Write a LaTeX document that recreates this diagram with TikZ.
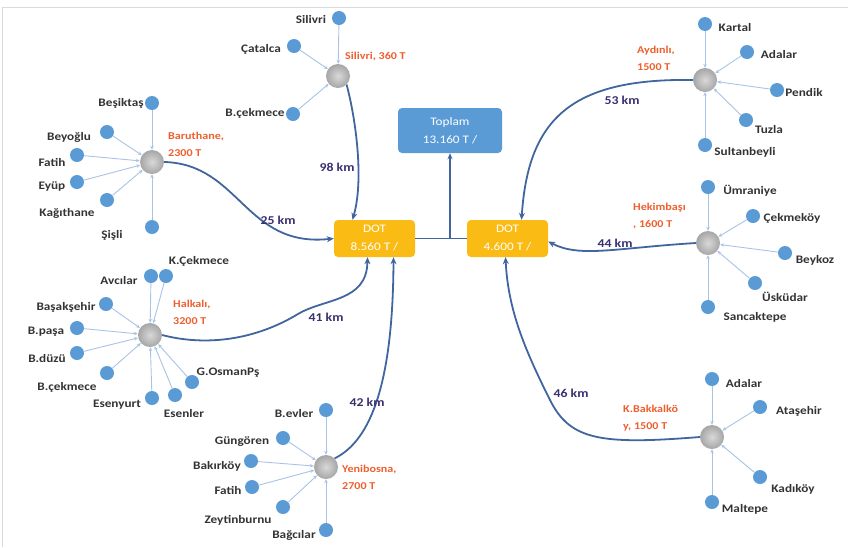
\documentclass[tikz,border=0pt]{standalone}
\usepackage{fontspec}
\setmainfont{Carlito}[FakeStretch=1.15]
\usetikzlibrary{arrows.meta}
\definecolor{leafblue}{HTML}{5B9BD5}
\definecolor{linklight}{HTML}{A9C3E6}
\definecolor{curveblue}{HTML}{41659E}
\definecolor{kmcol}{HTML}{3A3070}
\definecolor{redlab}{HTML}{EE5F2E}
\definecolor{dotcol}{HTML}{FABB14}
\definecolor{topcol}{HTML}{5B9BD5}
\definecolor{framecol}{HTML}{DADADA}
\tikzset{
  leafnode/.style={circle, fill=leafblue, minimum size=14pt, inner sep=0pt},
  hubnode/.style={circle, shading=radial, inner color=gray!30, outer color=gray!70, minimum size=24pt, inner sep=0pt},
  lab/.style={font=\bfseries\fontsize{11.5}{12}\selectfont, text=black!80, inner sep=0pt},
  redl/.style={font=\bfseries\fontsize{10.5}{17}\selectfont, text=redlab, inner sep=0pt, align=left, anchor=north west},
  kml/.style={font=\bfseries\fontsize{12}{12}\selectfont, text=kmcol, inner sep=0pt},
  feed/.style={draw=linklight, line width=0.9pt, -{Stealth[length=4pt,width=3.5pt]}},
  trunk/.style={draw=curveblue, line width=1.8pt, -{Stealth[length=7pt,width=6pt]}},
  boxd/.style={rounded corners=4pt, text=white, align=center, font=\fontsize{11.5}{18}\selectfont, inner sep=0pt},
}
\begin{document}
\begin{tikzpicture}[x=1pt,y=-1pt]
\useasboundingbox (0,0) rectangle (848,547);
\draw[framecol, line width=1pt] (2.5,547) -- (2.5,7) -- (848,7);

% central boxes
\node[boxd, fill=topcol, minimum width=104pt, minimum height=45pt] (top) at (450,130.5) {Toplam\\13.160 T /};
\node[boxd, fill=dotcol, minimum width=81pt, minimum height=37pt] (dotL) at (374.5,238.5) {DOT\\8.560 T /};
\node[boxd, fill=dotcol, minimum width=81pt, minimum height=37pt] (dotR) at (507.5,238.5) {DOT\\4.600 T /};
\coordinate (jn) at (450,238.5);
\draw[curveblue, line width=1.4pt] (dotL.east) -- (dotR.west);
\draw[curveblue, line width=1.4pt, -{Stealth[length=6pt,width=5pt]}] (jn) -- (top.south);

% hubs
\node[hubnode] (hS) at (338,76) {};
\node[hubnode] (hB) at (152,162) {};
\node[hubnode] (hH) at (150,335) {};
\node[hubnode] (hY) at (326,467) {};
\node[hubnode] (hA) at (705,80) {};
\node[hubnode] (hK) at (708,243) {};
\node[hubnode] (hKB) at (712,437) {};

% Silivri cluster
\node[leafnode] (s1) at (339,18) {};
\node[leafnode] (s2) at (294,46) {};
\node[leafnode] (s3) at (293,114) {};
\node[lab] (ts1) at (311,20) {Silivri};
\node[lab] (ts2) at (261,49) {Çatalca};
\node[lab] (ts3) at (255,113) {B.çekmece};
\foreach \l in {s1,s2,s3} \draw[feed] (\l) -- (hS);
\node[redl] (rS) at (345,52) {Silivri, 360 T};

% Baruthane cluster
\node[leafnode] (b1) at (152,103) {};
\node[leafnode] (b2) at (107,132) {};
\node[leafnode] (b3) at (77,155) {};
\node[leafnode] (b4) at (77,182) {};
\node[leafnode] (b5) at (107,200) {};
\node[leafnode] (b6) at (152,227) {};
\node[lab] (tb1) at (121,103) {Beşiktaş};
\node[lab] (tb2) at (69,137) {Beyoğlu};
\node[lab] (tb3) at (52,162) {Fatih};
\node[lab] (tb4) at (52,187) {Eyüp};
\node[lab] (tb5) at (67,213) {Kağıthane};
\node[lab] (tb6) at (112,235) {Şişli};
\foreach \l in {b1,b2,b3,b4,b5,b6} \draw[feed] (\l) -- (hB);
\node[redl] (rB) at (168,132) {Baruthane,\\2300 T};

% Halkali cluster
\node[leafnode] (h1) at (151,276) {};
\node[leafnode] (h2) at (166,276) {};
\node[leafnode] (h3) at (106,304) {};
\node[leafnode] (h4) at (77,328) {};
\node[leafnode] (h5) at (77,353) {};
\node[leafnode] (h6) at (107,373) {};
\node[leafnode] (h7) at (152,398) {};
\node[leafnode] (h8) at (175,395) {};
\node[leafnode] (h9) at (192,382) {};
\node[lab] (th1) at (119,280) {Avcılar};
\node[lab] (th2) at (199,261) {K.Çekmece};
\node[lab] (th3) at (66,307) {Başakşehir};
\node[lab] (th4) at (46,332) {B.paşa};
\node[lab] (th5) at (47,358) {B.düzü};
\node[lab] (th6) at (67,387) {B.çekmece};
\node[lab] (th7) at (117,405) {Esenyurt};
\node[lab] (th8) at (184,413) {Esenler};
\node[lab] (th9) at (228,373) {G.OsmanPş};
\foreach \l in {h1,h2,h3,h4,h5,h6,h7,h8,h9} \draw[feed] (\l) -- (hH);
\node[redl] (rH) at (173,300) {Halkalı,\\3200 T};

% Yenibosna cluster
\node[leafnode] (y1) at (326,410) {};
\node[leafnode] (y2) at (283,438) {};
\node[leafnode] (y3) at (251,461) {};
\node[leafnode] (y4) at (252,487) {};
\node[leafnode] (y5) at (283,507) {};
\node[leafnode] (y6) at (326,530) {};
\node[lab] (ty1) at (294,413) {B.evler};
\node[lab] (ty2) at (242,442) {Güngören};
\node[lab] (ty3) at (217,466) {Bakırköy};
\node[lab] (ty4) at (228,490) {Fatih};
\node[lab] (ty5) at (238,520) {Zeytinburnu};
\node[lab] (ty6) at (294,535) {Bağcılar};
\foreach \l in {y1,y2,y3,y4,y5,y6} \draw[feed] (\l) -- (hY);
\node[redl] (rY) at (342,465) {Yenibosna,\\2700 T};

% Aydinli cluster
\node[leafnode] (a1) at (705,24) {};
\node[leafnode] (a2) at (747,52) {};
\node[leafnode] (a3) at (777,90) {};
\node[leafnode] (a4) at (746,120) {};
\node[leafnode] (a5) at (705,145) {};
\node[lab] (ta1) at (735,28) {Kartal};
\node[lab] (ta2) at (779,55) {Adalar};
\node[lab] (ta3) at (804,93) {Pendik};
\node[lab] (ta4) at (769,130) {Tuzla};
\node[lab] (ta5) at (745,152) {Sultanbeyli};
\foreach \l in {a1,a2,a3,a4,a5} \draw[feed] (\l) -- (hA);
\node[redl] (rA) at (637,46) {Aydınlı,\\1500 T};

% Hekimbasi cluster
\node[leafnode] (k1) at (708,187) {};
\node[leafnode] (k2) at (753,216) {};
\node[leafnode] (k3) at (785,253) {};
\node[leafnode] (k4) at (755,283) {};
\node[leafnode] (k5) at (708,307) {};
\node[lab] (tk1) at (750,191) {Ümraniye};
\node[lab] (tk2) at (792,218) {Çekmeköy};
\node[lab] (tk3) at (815,260) {Beykoz};
\node[lab] (tk4) at (785,297) {Üsküdar};
\node[lab] (tk5) at (755,317) {Sancaktepe};
\foreach \l in {k1,k2,k3,k4,k5} \draw[feed] (\l) -- (hK);
\node[redl] (rK) at (633,203) {Hekimbaşı\\, 1600 T};

% K.Bakkalkoy cluster
\node[leafnode] (q1) at (712,379) {};
\node[leafnode] (q2) at (760,407) {};
\node[leafnode] (q3) at (760,477) {};
\node[leafnode] (q4) at (712,502) {};
\node[lab] (tq1) at (744,383) {Adalar};
\node[lab] (tq2) at (799,411) {Ataşehir};
\node[lab] (tq3) at (793,489) {Kadıköy};
\node[lab] (tq4) at (745,509) {Maltepe};
\foreach \l in {q1,q2,q3,q4} \draw[feed] (\l) -- (hKB);
\node[redl] (rQ) at (623,405) {K.Bakkalkö\\y, 1500 T};

% trunk curves
\draw[trunk] (hS.south east) .. controls (356,120) and (364,180) .. ([xshift=-22pt]dotL.north);
\draw[trunk] (hB.east) .. controls (240,164) and (245,248) .. (dotL.west);
\draw[trunk] (hH.east) .. controls (200,345) and (250,343) .. (298,314)
  .. controls (325,298) and (367,302) .. ([xshift=-7pt]dotL.south);
\draw[trunk] (hY.north east) .. controls (372,440) and (393,380) .. ([xshift=19pt]dotL.south);
\draw[trunk] (hA.west) .. controls (570,78) and (528,120) .. ([xshift=14pt]dotR.north);
\draw[trunk] (hK.west) .. controls (615,248) and (580,258) .. ([yshift=-3pt]dotR.east);
\draw[trunk] (hKB.west) .. controls (600,445) and (570,440) .. (550,400)
  .. controls (525,350) and (508,310) .. ([xshift=-2pt]dotR.south);

% distance labels
\node[kml] (d1) at (337,167) {98 km};
\node[kml] (d2) at (278,220) {25 km};
\node[kml] (d3) at (326,317) {41 km};
\node[kml] (d4) at (367,402) {42 km};
\node[kml] (d5) at (622,100) {53 km};
\node[kml] (d6) at (615,243) {44 km};
\node[kml] (d7) at (571,393) {46 km};
\end{tikzpicture}
\end{document}
